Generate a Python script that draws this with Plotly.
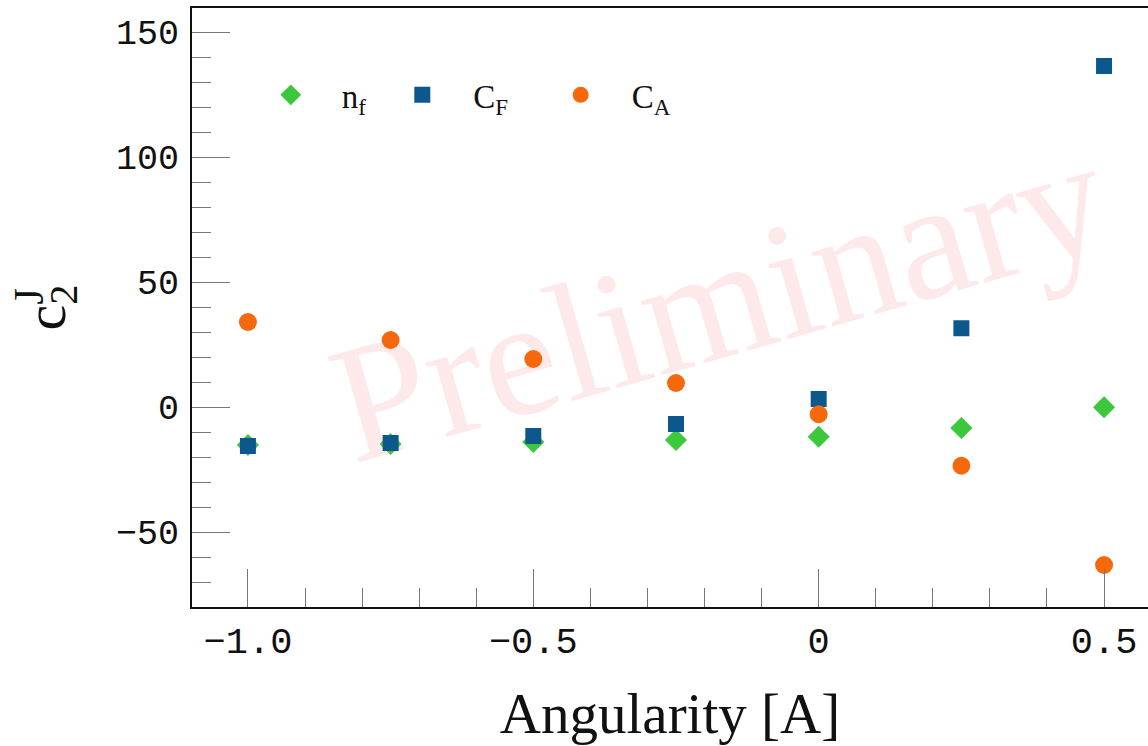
import plotly.graph_objects as go

angularity = [-1.0, -0.75, -0.5, -0.25, 0.0, 0.25, 0.5]
nf_vals = [-15.2, -14.8, -14.0, -13.2, -11.9, -8.4, -0.1]
cf_vals = [-15.6, -14.4, -11.6, -6.8, 3.2, 31.5, 136.4]
ca_vals = [34.0, 26.8, 19.2, 9.6, -2.9, -23.5, -63.2]

x_ticks = [-1.0, -0.5, 0.0, 0.5]
x_ticktext = ["\u22121.0", "\u22120.5", "0", "0.5"]
y_ticks = [-50, 0, 50, 100, 150]
y_ticktext = ["\u221250", "0", "50", "100", "150"]

GREEN = "#3cc83c"
BLUE = "#0c588c"
ORANGE = "#f5690c"
SERIF = "Liberation Serif"
MONO = "Liberation Mono"

fig = go.Figure()
fig.add_trace(go.Scatter(x=angularity, y=nf_vals, mode="markers", name="n<sub>f</sub>",
                         marker=dict(symbol="diamond", size=17, color=GREEN)))
fig.add_trace(go.Scatter(x=angularity, y=cf_vals, mode="markers", name="C<sub>F</sub>\u2002",
                         marker=dict(symbol="square", size=16, color=BLUE)))
fig.add_trace(go.Scatter(x=angularity, y=ca_vals, mode="markers", name="C<sub>A</sub>",
                         marker=dict(symbol="circle", size=18, color=ORANGE)))

fig.update_layout(
    width=1148, height=746,
    margin=dict(l=192, r=0, t=8, b=139),
    plot_bgcolor="white", paper_bgcolor="white",
    showlegend=True,
    legend=dict(orientation="h", x=0.05, y=0.855, xanchor="left", yanchor="middle",
                font=dict(family=SERIF, size=33, color="#111"),
                bgcolor="rgba(0,0,0,0)", itemwidth=92),
    shapes=[dict(type="rect", xref="paper", yref="paper", x0=0.203, x1=0.889, y0=0.387, y1=0.697,
                 line=dict(width=0), fillcolor="rgba(0,0,0,0)", layer="below",
                 label=dict(text="Preliminary", textangle=-16, textposition="middle center",
                            font=dict(family=SERIF, size=168, color="#fde8ea")))],
    annotations=[dict(text="J", xref="paper", yref="paper", x=-0.170, y=0.519,
                      xanchor="center", yanchor="middle", showarrow=False, textangle=-90,
                      font=dict(family=SERIF, size=42, color="#111"))],
)

fig.update_xaxes(
    range=[-1.098, 0.577], tickvals=x_ticks, ticktext=x_ticktext,
    ticks="inside", ticklen=38, tickwidth=1.2, tickcolor="#777",
    minor=dict(dtick=0.1, tick0=0, ticks="inside", ticklen=19, tickwidth=1.2, tickcolor="#777"),
    showline=True, linecolor="#111", linewidth=2, mirror=True,
    showgrid=False, zeroline=False,
    tickfont=dict(family=MONO, size=37, color="#111"),
    title=dict(text="Angularity [A]", font=dict(family=SERIF, size=57, color="#111"), standoff=30),
)
fig.update_yaxes(
    range=[-80, 159.6], tickvals=y_ticks, ticktext=y_ticktext,
    ticks="inside", ticklen=38, tickwidth=1.2, tickcolor="#777",
    minor=dict(dtick=10, tick0=0, ticks="inside", ticklen=19, tickwidth=1.2, tickcolor="#777"),
    showline=True, linecolor="#111", linewidth=2, mirror=False,
    showgrid=False, zeroline=False,
    tickfont=dict(family=MONO, size=35, color="#111"), ticklabelstandoff=4,
    title=dict(text="c<sub>2</sub>", font=dict(family=SERIF, size=58, color="#111"), standoff=32),
)

fig.write_html("out.html")
